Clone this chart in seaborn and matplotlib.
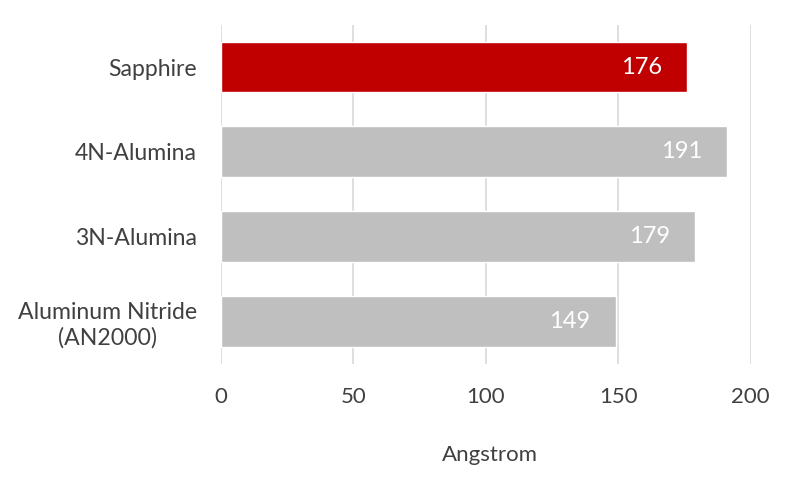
import matplotlib
matplotlib.use("Agg")
import matplotlib.pyplot as plt
import seaborn as sns
import pandas as pd

categories = ["Sapphire", "4N-Alumina", "3N-Alumina", "Aluminum Nitride\n(AN2000)"]
values = [176, 191, 179, 149]
bar_colors = ["#C00000", "#BFBFBF", "#BFBFBF", "#BFBFBF"]
x_ticks = [0, 50, 100, 150, 200]
x_label = "Angstrom"

sns.set_theme(style="white")
plt.rcParams['font.family'] = ['Lato', 'DejaVu Sans']

df = pd.DataFrame({"category": categories, "value": values})

fig = plt.figure(figsize=(8, 4.83), dpi=100)
ax = fig.add_axes([0.276, 0.247, 0.6625, 0.702])

sns.barplot(data=df, y="category", x="value", hue="category", palette=bar_colors,
            legend=False, orient="h", width=0.6, ax=ax, saturation=1)

ax.set_xlim(0, 200)
ax.set_ylim(3.5, -0.5)
ax.set_xticks(x_ticks)
ax.grid(axis="x", color="#D9D9D9", linewidth=1.2)
ax.set_axisbelow(True)
for s in ax.spines.values():
    s.set_visible(False)

ax.tick_params(axis="x", labelsize=16, labelcolor="#404040", pad=17, length=0)
ax.tick_params(axis="y", labelsize=16.6, labelcolor="#404040", pad=17, length=0)
for lbl in ax.get_yticklabels():
    lbl.set_horizontalalignment("right")
    lbl.set_multialignment("center")
    lbl.set_linespacing(1.25)
ax.set_ylabel("")
ax.set_xlabel(x_label, fontsize=16, color="#404040", va="center")
ax.xaxis.set_label_coords(0.508, -0.269)

for i, v in enumerate(values):
    ax.text(v - 9.5, i, str(v), ha="right", va="center", color="white", fontsize=17)

fig.savefig("out.png", dpi=100)
